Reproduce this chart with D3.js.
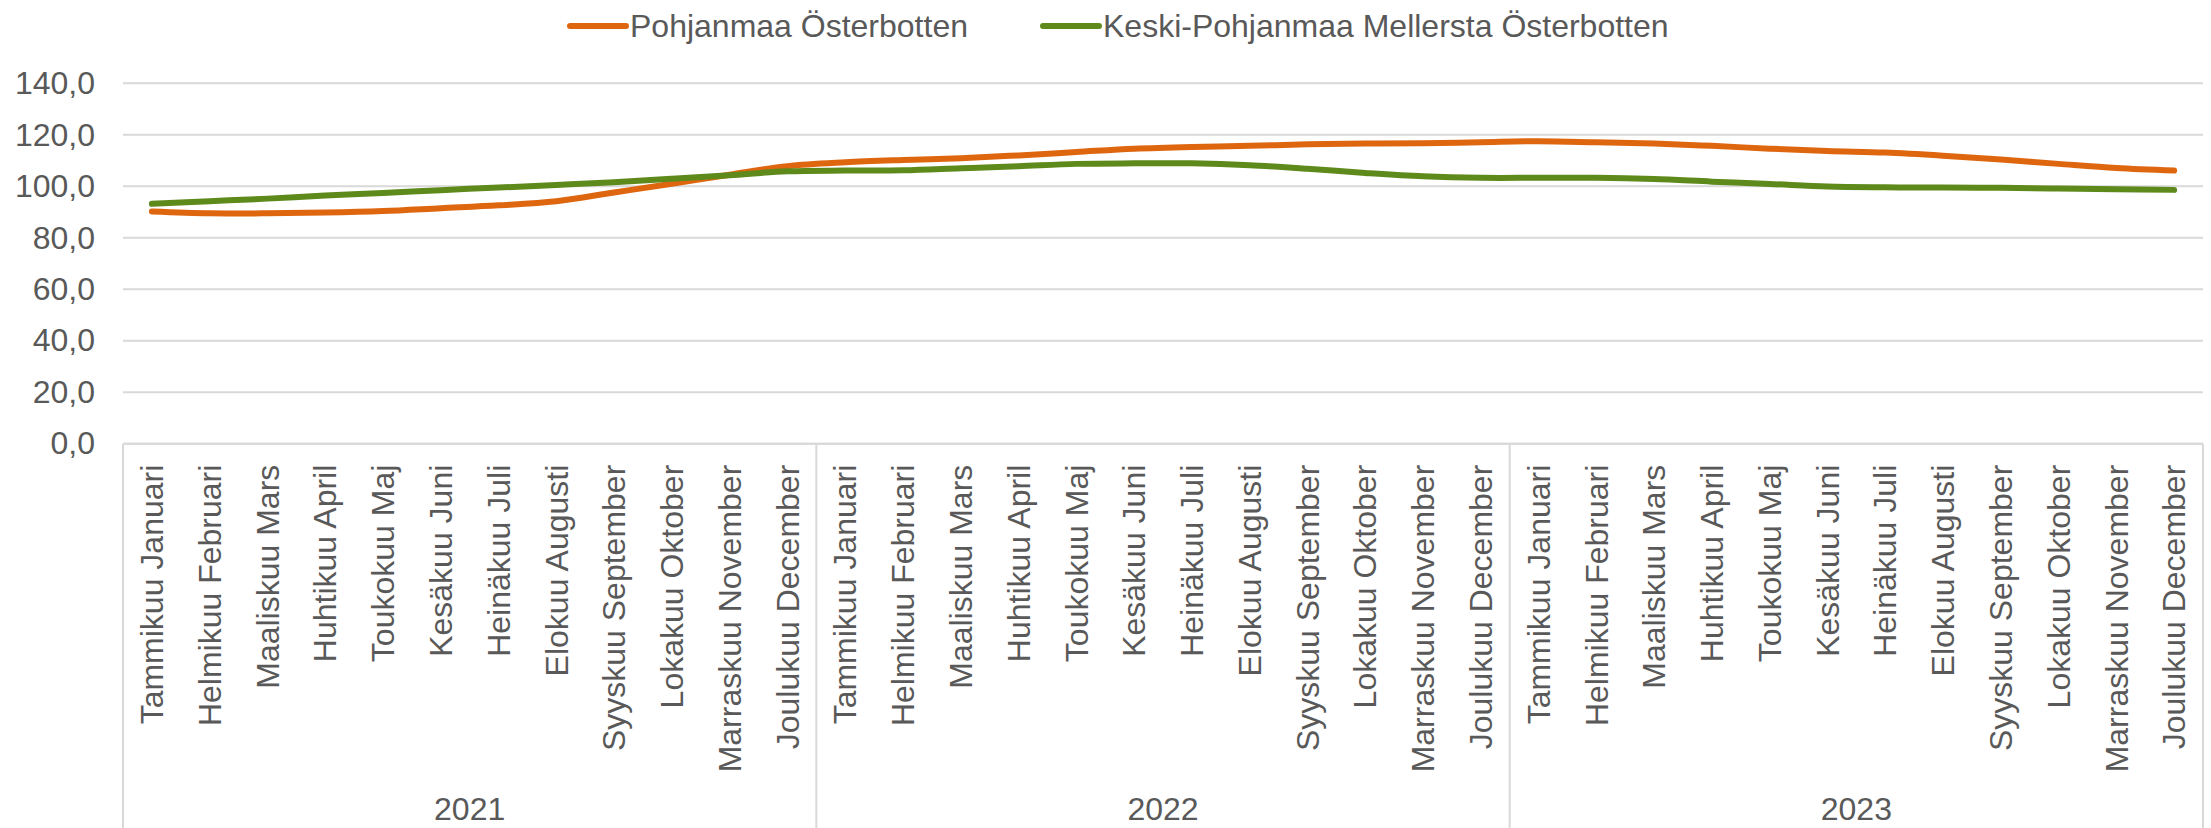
<!DOCTYPE html>
<html>
<head>
<meta charset="utf-8">
<script src="https://cdn.jsdelivr.net/npm/d3@7"></script>
<style>
  body { margin: 0; background: #fff; }
  svg { display: block; font-family: "Liberation Sans", Arial, sans-serif; }
</style>
</head>
<body>
<div id="chart"></div>
<script>
// Size of the picture
const w = 2211;
const h = 828;

// Data
const years = ["2021", "2022", "2023"];
const months = ["Tammikuu Januari", "Helmikuu Februari", "Maaliskuu Mars", "Huhtikuu April",
  "Toukokuu Maj", "Kesäkuu Juni", "Heinäkuu Juli", "Elokuu Augusti", "Syyskuu September",
  "Lokakuu Oktober", "Marraskuu November", "Joulukuu December"];
const seriesNames = ["Pohjanmaa Österbotten", "Keski-Pohjanmaa Mellersta Österbotten"];
const pohjanmaa = [
  90.2, 89.5, 89.5, 89.8, 90.4, 91.5, 92.6, 94.2, 97.6, 101.0, 104.5, 107.8,
  109.3, 110.2, 110.9, 112.0, 113.3, 114.6, 115.3, 115.7, 116.3, 116.6, 116.7, 117.1,
  117.5, 117.1, 116.6, 115.7, 114.6, 113.7, 113.1, 111.9, 110.4, 108.7, 107.1, 106.1
];
const keskiPohjanmaa = [
  93.2, 94.2, 95.2, 96.4, 97.4, 98.5, 99.5, 100.5, 101.6, 102.9, 104.3, 105.8,
  106.1, 106.2, 107.0, 107.8, 108.7, 108.9, 108.9, 108.2, 106.8, 105.2, 103.9, 103.3,
  103.3, 103.3, 102.8, 101.8, 100.9, 99.9, 99.6, 99.5, 99.4, 99.1, 98.8, 98.6
];
const yTicks = [0, 20, 40, 60, 80, 100, 120, 140];
const colors = ["#de660f", "#5e8a1c"];

// Plot area
const plotLeft = 123, plotRight = 2203, plotTop = 83.3, plotBottom = 443.7;
const textColor = "#595959";
const gridColor = "#d9d9d9";
const fontSize = 32;

// one key per month, e.g. "2021|Tammikuu Januari"
const keys = [];
years.forEach(y => months.forEach(m => keys.push(y + "|" + m)));

const svg = d3.select("#chart")
  .append("svg")
  .attr("width", w)
  .attr("height", h);

const xScale = d3.scaleBand()
  .domain(keys)
  .range([plotLeft, plotRight]);

const yScale = d3.scaleLinear()
  .domain([0, 140])
  .range([plotBottom, plotTop]);

// Horizontal gridlines
svg.append("g")
  .selectAll("line")
  .data(yTicks)
  .enter()
  .append("line")
  .attr("x1", plotLeft)
  .attr("x2", plotRight)
  .attr("y1", d => yScale(d))
  .attr("y2", d => yScale(d))
  .attr("stroke", gridColor)
  .attr("stroke-width", 2);

// Y axis labels
const yAxis = d3.axisLeft(yScale)
  .tickValues(yTicks)
  .tickSize(0)
  .tickPadding(28)
  .tickFormat(d => d3.format(".1f")(d).replace(".", ","));

const yg = svg.append("g")
  .attr("transform", `translate(${plotLeft},0)`)
  .call(yAxis);
yg.select(".domain").remove();
yg.selectAll("text")
  .attr("fill", textColor)
  .attr("font-size", fontSize)
  .attr("font-family", "Liberation Sans, Arial, sans-serif");

// Year separators of the two level category axis
const sepX = years.map(y => xScale(y + "|" + months[0])).concat([plotRight]);
svg.append("g")
  .selectAll("line")
  .data(sepX)
  .enter()
  .append("line")
  .attr("x1", d => d)
  .attr("x2", d => d)
  .attr("y1", plotBottom)
  .attr("y2", h)
  .attr("stroke", gridColor)
  .attr("stroke-width", 2);

// Month labels, rotated
const xAxis = d3.axisBottom(xScale)
  .tickSize(0)
  .tickFormat(d => d.split("|")[1]);

const xg = svg.append("g")
  .attr("transform", `translate(0,${plotBottom})`)
  .call(xAxis);
xg.select(".domain").remove();
xg.selectAll("text")
  .attr("fill", textColor)
  .attr("font-size", fontSize)
  .attr("font-family", "Liberation Sans, Arial, sans-serif")
  .attr("text-anchor", "end")
  .attr("transform", "rotate(-90)")
  .attr("x", -21)
  .attr("y", 0)
  .attr("dy", "0.35em");

// Year labels
svg.append("g")
  .selectAll("text")
  .data(years)
  .enter()
  .append("text")
  .attr("x", d => xScale(d + "|" + months[0]) + xScale.step() * 6)
  .attr("y", 820)
  .attr("text-anchor", "middle")
  .attr("fill", textColor)
  .attr("font-size", fontSize)
  .text(d => d);

// Bottom axis line
svg.append("line")
  .attr("x1", plotLeft)
  .attr("x2", plotRight)
  .attr("y1", plotBottom)
  .attr("y2", plotBottom)
  .attr("stroke", gridColor)
  .attr("stroke-width", 2);

// Smoothed lines
const line = d3.line()
  .x((d, i) => xScale(keys[i]) + xScale.bandwidth() / 2)
  .y(d => yScale(d))
  .curve(d3.curveCatmullRom.alpha(0.5));

[pohjanmaa, keskiPohjanmaa].forEach((vals, i) => {
  svg.append("path")
    .datum(vals)
    .attr("fill", "none")
    .attr("stroke", colors[i])
    .attr("stroke-width", 6)
    .attr("stroke-linecap", "round")
    .attr("stroke-linejoin", "round")
    .attr("d", line);
});

// Legend
const legend = svg.append("g");
let lx = 570;
seriesNames.forEach((name, i) => {
  legend.append("line")
    .attr("x1", lx)
    .attr("x2", lx + 56)
    .attr("y1", 26)
    .attr("y2", 26)
    .attr("stroke", colors[i])
    .attr("stroke-width", 6)
    .attr("stroke-linecap", "round");
  const t = legend.append("text")
    .attr("x", lx + 60)
    .attr("y", 26)
    .attr("dy", "0.35em")
    .attr("fill", textColor)
    .attr("font-size", fontSize)
    .text(name);
  lx = lx + 60 + t.node().getComputedTextLength() + 75;
});
</script>
</body>
</html>
